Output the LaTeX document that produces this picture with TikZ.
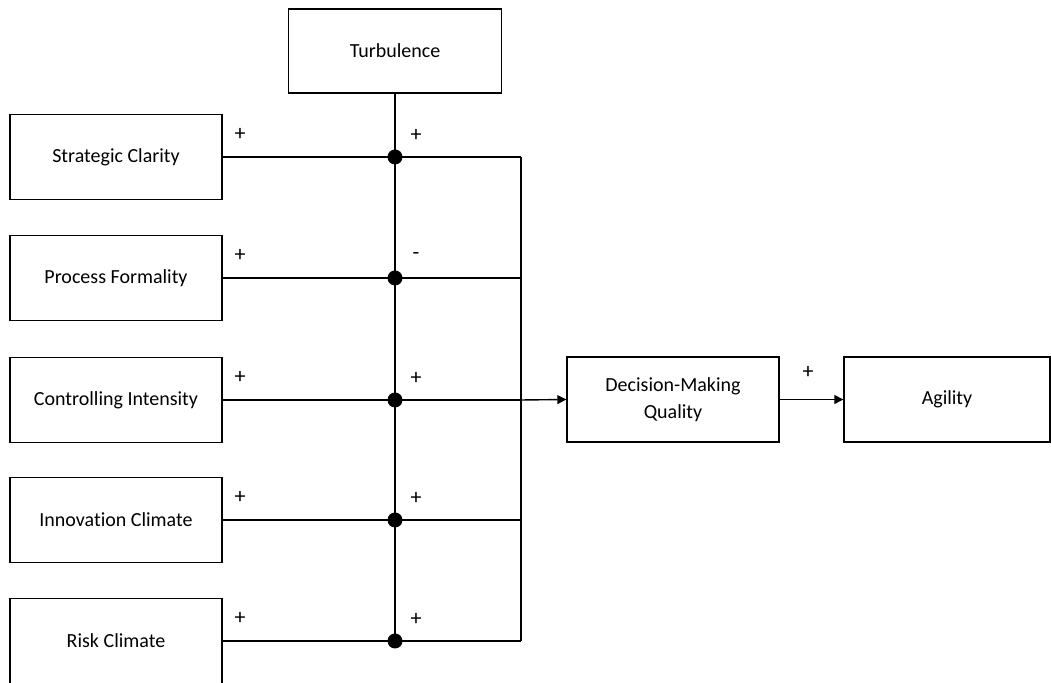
\documentclass[tikz,border=0pt]{standalone}
\usepackage{fontspec}
\setmainfont{Carlito}[Ligatures=NoCommon]
\usetikzlibrary{arrows.meta, positioning, calc}
\tikzset{
    % Boxes
    factorBox/.style={rectangle, draw=black, line width=0.7pt, fill=white,
        minimum width=106pt, minimum height=42.5pt, inner sep=2pt,
        align=center, font=\fontsize{10}{13.5}\selectfont},
    % Connectors
    linkLine/.style={draw=black, line width=0.7pt},
    linkArrow/.style={linkLine, -{Triangle[length=4.5pt,width=4.5pt]}},
    junction/.style={circle, fill=black, minimum size=7.5pt, inner sep=0pt},
    signLabel/.style={font=\fontsize{11}{12}\selectfont, inner sep=0pt}
}
\begin{document}
\begin{tikzpicture}[x=0.5pt, y=-0.5pt]
    \useasboundingbox (0,0) rectangle (1051,683);

    % Moderator
    \node[factorBox, minimum width=106.5pt, minimum height=42pt] (turb) at (395,51) {Turbulence};
    \coordinate (turbEnd) at (395,641);
    \draw[linkLine] (turb.south) -- (turbEnd);

    % Factors with their junctions
    \foreach \name/\txt/\y/\sgn in {strat/Strategic Clarity/157/+, proc/Process Formality/278/-,
        ctrl/Controlling Intensity/400/+, innov/Innovation Climate/520/+, risk/Risk Climate/641/+} {
        \node[factorBox] (\name) at (116,\y) {\txt};
        \coordinate (\name-j) at (395,\y);
        \coordinate (\name-e) at (521,\y);
        \draw[linkLine] (\name.east) -- (\name-j) -- (\name-e);
        \node[junction] (\name-dot) at (\name-j) {};
        \node[signLabel] (\name-s1) at (240,\y-23) {+};
        \node[signLabel] (\name-s2) at (416,\y-22) {\sgn};
    }

    % Collector line
    \draw[linkLine] (strat-e) -- (risk-e);

    % Outcome chain
    \node[factorBox] (dmq) at (673,399.5) {Decision-Making\\Quality};
    \node[factorBox, minimum width=103pt] (agil) at (947,399.5) {Agility};
    \draw[linkArrow] (ctrl-e) -- (dmq.west);
    \draw[linkArrow] (dmq.east) -- (agil.west);
    \node[signLabel] (agil-s) at (808,372) {+};
\end{tikzpicture}
\end{document}
